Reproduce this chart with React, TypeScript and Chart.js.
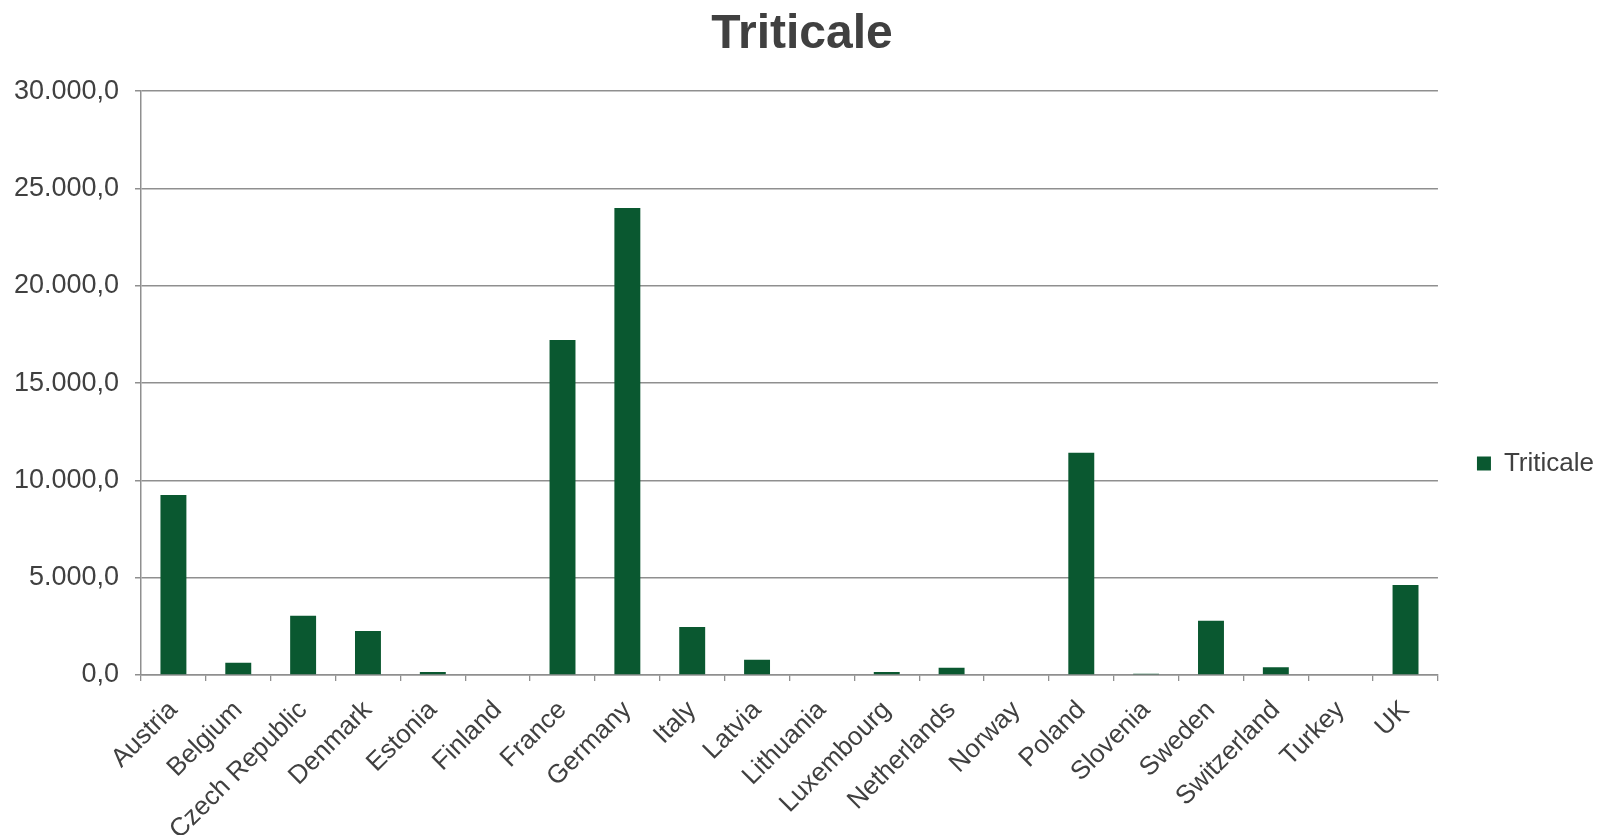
import React, { useEffect, useRef } from "react";
import { Chart, registerables } from "chart.js";

Chart.register(...registerables);

const categories = [
  "Austria", "Belgium", "Czech Republic", "Denmark", "Estonia", "Finland", "France",
  "Germany", "Italy", "Latvia", "Lithuania", "Luxembourg", "Netherlands", "Norway",
  "Poland", "Slovenia", "Sweden", "Switzerland", "Turkey", "UK",
];
const triticale = [
  9250, 630, 3050, 2260, 150, 0, 17210, 24000, 2470, 790, 0, 150, 370, 0,
  11420, 60, 2790, 400, 0, 4630,
];
const yTicks = [0, 5000, 10000, 15000, 20000, 25000, 30000];

const FONT = "'Liberation Sans', Arial, sans-serif";
const TEXT = "#404040";
const GRID = "#8f8f8f";

function fmt(v: number): string {
  const s = Math.round(v).toString().replace(/\B(?=(\d{3})+(?!\d))/g, ".");
  return s + ",0";
}

export default function App() {
  const ref = useRef<HTMLCanvasElement | null>(null);
  useEffect(() => {
    if (!ref.current) return;
    const chart = new Chart(ref.current, {
      type: "bar",
      data: {
        labels: categories,
        datasets: [
          {
            label: "Triticale",
            data: triticale,
            backgroundColor: "#0a5830",
            borderWidth: 0,
            barPercentage: 1,
            categoryPercentage: 0.4,
          },
        ],
      },
      options: {
        animation: false,
        responsive: false,
        maintainAspectRatio: false,
        layout: { padding: { left: 0, right: 2, top: 0, bottom: 0 } },
        plugins: {
          title: {
            display: true,
            text: "Triticale",
            color: TEXT,
            font: { family: FONT, size: 48, weight: "bold" },
            padding: { top: 6, bottom: 27.6 },
          },
          legend: {
            display: true,
            position: "right",
            title: {
              display: true,
              text: " ",
              font: { family: FONT, size: 10 },
              padding: { top: 40, bottom: 40 },
            },
            labels: {
              color: TEXT,
              font: { family: FONT, size: 26 },
              boxWidth: 14,
              boxHeight: 14,
              padding: 39,
            },
          },
          tooltip: { enabled: false },
        },
        scales: {
          x: {
            grid: {
              drawOnChartArea: false,
              drawTicks: true,
              tickLength: 6,
              color: GRID,
              lineWidth: 1.3,
            },
            border: { color: GRID, width: 1.5 },
            ticks: {
              color: TEXT,
              font: { family: FONT, size: 26 },
              minRotation: 45,
              maxRotation: 45,
              autoSkip: false,
              padding: 14,
            },
            afterFit: (s: any) => {
              s.height = 160;
            },
          },
          y: {
            min: 0,
            max: 30000,
            afterBuildTicks: (s: any) => {
              s.ticks = yTicks.map((v) => ({ value: v }));
            },
            grid: {
              color: GRID,
              lineWidth: 1.5,
              tickLength: 6,
            },
            border: { color: GRID, width: 1.5 },
            ticks: {
              color: TEXT,
              font: { family: FONT, size: 27 },
              padding: 16,
              callback: (v: any) => fmt(Number(v)),
            },
            afterFit: (s: any) => {
              s.width = 141;
            },
          },
        },
      },
    });
    return () => chart.destroy();
  }, []);
  return (
    <div style={{ position: "absolute", left: 0, top: 0, width: 1606, height: 835, background: "#fff" }}>
      <canvas ref={ref} width={1606} height={835} style={{ display: "block" }} />
    </div>
  );
}
